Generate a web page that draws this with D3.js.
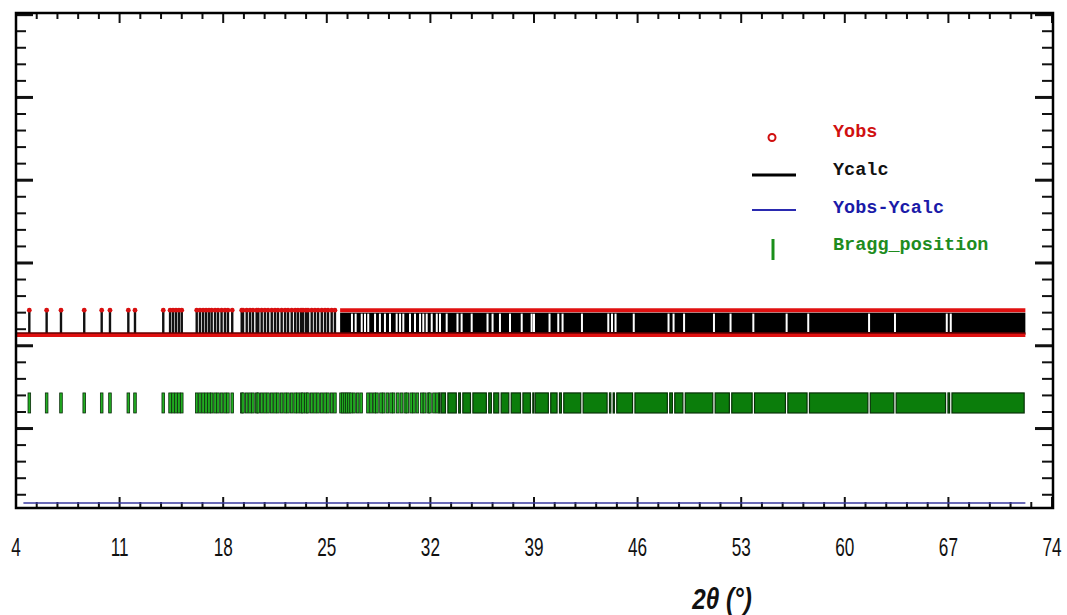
<!DOCTYPE html>
<html>
<head>
<meta charset="utf-8">
<script src="https://cdn.jsdelivr.net/npm/d3@7"></script>
<style>
  body { margin: 0; background: #fff; }
  svg { display: block; }
</style>
</head>
<body>
<svg id="chart"></svg>
<script>
// Tick labels along 2theta
var xTickLabels = [4, 11, 18, 25, 32, 39, 46, 53, 60, 67, 74];

// Measured range of the pattern (2theta, degrees)
var patternStart = 4.1,
    patternEnd = 72.2;

// Intensity levels
var backgroundLevel = 565,
    calcPeakLevel = 700,
    obsPeakLevel = 715,
    braggTop = 215,
    braggBottom = 94,
    diffLevel = -450;

// Reflections resolved one by one at low angle
var reflections = [
  4.90, 6.07, 7.04, 8.61, 9.79, 10.35, 11.59, 12.04, 13.95, 14.41, 14.61, 14.81, 15.01, 15.20,
  16.21, 16.43, 16.64, 16.84, 17.04, 17.22, 17.45, 17.65, 17.89, 18.12, 18.32, 18.61,
  19.25, 19.34, 19.59, 19.81, 20.01, 20.26, 20.37,
  20.60, 20.82, 21.03, 21.28, 21.50, 21.70, 21.95,
  22.18, 22.38, 22.63, 22.86, 23.05, 23.26, 23.39, 23.59, 23.73, 23.98, 24.20, 24.41,
  24.66, 24.88, 25.08, 25.33, 25.55,
  25.96, 26.09, 26.23, 26.36, 26.50, 26.64, 26.84, 27.09, 27.32,
  27.78, 27.99, 28.21, 28.39, 28.66, 28.84, 29.09, 29.34, 29.52, 29.80, 30.05,
  30.30, 30.44, 30.70, 30.89, 31.12, 31.42, 31.60, 31.85, 31.97, 32.24, 32.45
];

// Above these angles the peaks overlap into a solid band
var denseCalcFrom = 25.9,
    denseBraggFrom = 32.5;

// Small holes left between overlapping peaks
var gaps = [
  26.70, 26.95, 27.36, 27.58, 27.80, 28.26, 28.59, 28.93, 29.27, 29.72, 29.95, 30.17,
  30.62, 30.96, 31.30, 31.52, 31.75, 32.09, 32.43, 32.65,
  33.10, 33.83, 34.11, 34.79, 35.86, 36.20, 36.70, 37.38, 38.17, 38.84, 39.00,
  40.05, 40.64, 40.93, 42.24, 44.02, 44.27, 44.51, 45.74, 48.09, 48.43, 49.14,
  51.16, 52.28, 53.82, 56.07, 57.53, 61.64, 63.39, 66.89, 67.16
];

var width = 1067,
    height = 615,
    plot = { left: 16, right: 1052, top: 13, bottom: 508 };

var svg = d3.select("#chart")
  .attr("width", width)
  .attr("height", height);

var x = d3.scaleLinear().domain([4, 74]).range([plot.left, plot.right]);
var y = d3.scaleLinear().domain([-480, 2510]).range([plot.bottom, plot.top]);

// Axis ticks: drawn inside the frame on all four sides
var xMinor = d3.range(4, 74.01, 1.4),
    yMinor = d3.range(-400, 2501, 100);

function isMajorX(v) { return Math.abs(((v - 4) / 7) - Math.round((v - 4) / 7)) < 1e-6; }
function isMajorY(v) { return v % 500 === 0; }

var ticks = svg.append("g").attr("stroke", "#111").attr("stroke-width", 2);

ticks.selectAll(".tb").data(xMinor).enter().append("line")
  .attr("x1", function(d) { return x(d); })
  .attr("x2", function(d) { return x(d); })
  .attr("y1", plot.bottom)
  .attr("y2", function(d) { return plot.bottom - (isMajorX(d) ? 11 : 6); });

ticks.selectAll(".tt").data(xMinor).enter().append("line")
  .attr("x1", function(d) { return x(d); })
  .attr("x2", function(d) { return x(d); })
  .attr("y1", plot.top)
  .attr("y2", function(d) { return plot.top + (isMajorX(d) ? 10 : 6); });

ticks.selectAll(".tl").data(yMinor).enter().append("line")
  .attr("x1", plot.left)
  .attr("x2", function(d) { return plot.left + (isMajorY(d) ? 17 : 10); })
  .attr("y1", function(d) { return y(d); })
  .attr("y2", function(d) { return y(d); })
  .attr("stroke-width", function(d) { return isMajorY(d) ? 3 : 2; });

ticks.selectAll(".tr").data(yMinor).enter().append("line")
  .attr("x1", plot.right)
  .attr("x2", function(d) { return plot.right - (isMajorY(d) ? 17 : 10); })
  .attr("y1", function(d) { return y(d); })
  .attr("y2", function(d) { return y(d); })
  .attr("stroke-width", function(d) { return isMajorY(d) ? 3 : 2; });

// Difference curve (flat)
svg.append("line")
  .attr("x1", x(4.5)).attr("x2", x(patternEnd))
  .attr("y1", y(diffLevel)).attr("y2", y(diffLevel))
  .attr("stroke", "#3a3aa0")
  .attr("stroke-width", 1.5);

// ---- Ycalc / Yobs band ----
var band = svg.append("g");

// solid part of the calculated profile
band.append("rect")
  .attr("x", x(denseCalcFrom))
  .attr("y", y(calcPeakLevel))
  .attr("width", x(patternEnd) - x(denseCalcFrom))
  .attr("height", y(backgroundLevel) - y(calcPeakLevel))
  .attr("fill", "#000");

// single reflections
band.selectAll(".peak")
  .data(reflections.filter(function(d) { return d < denseCalcFrom; }))
  .enter().append("line")
  .attr("class", "peak")
  .attr("x1", function(d) { return x(d); })
  .attr("x2", function(d) { return x(d); })
  .attr("y1", y(backgroundLevel))
  .attr("y2", y(obsPeakLevel))
  .attr("stroke", "#111")
  .attr("stroke-width", 2.4);

// holes between overlapping peaks
band.selectAll(".gap")
  .data(gaps)
  .enter().append("line")
  .attr("x1", function(d) { return x(d); })
  .attr("x2", function(d) { return x(d); })
  .attr("y1", y(calcPeakLevel) + 1)
  .attr("y2", y(backgroundLevel) - 3)
  .attr("stroke", "#fff")
  .attr("stroke-width", 2);

// observed points: background line and peak tops
band.append("line")
  .attr("x1", plot.left + 1).attr("x2", x(patternEnd))
  .attr("y1", y(backgroundLevel)).attr("y2", y(backgroundLevel))
  .attr("stroke", "#e01010")
  .attr("stroke-width", 4);
band.append("line")
  .attr("x1", plot.left + 1).attr("x2", x(patternEnd))
  .attr("y1", y(backgroundLevel) - 2).attr("y2", y(backgroundLevel) - 2)
  .attr("stroke", "#600")
  .attr("stroke-width", 1.5);

band.append("line")
  .attr("x1", x(denseCalcFrom)).attr("x2", x(patternEnd))
  .attr("y1", y(obsPeakLevel)).attr("y2", y(obsPeakLevel))
  .attr("stroke", "#e01010")
  .attr("stroke-width", 4);

band.selectAll(".obs")
  .data(reflections.filter(function(d) { return d < denseCalcFrom; }))
  .enter().append("circle")
  .attr("cx", function(d) { return x(d); })
  .attr("cy", y(obsPeakLevel))
  .attr("r", 2.4)
  .attr("fill", "#d81010");

// ---- Bragg positions ----
var bragg = svg.append("g");

bragg.selectAll(".tick")
  .data(reflections.filter(function(d) { return d < denseBraggFrom; }))
  .enter().append("rect")
  .attr("x", function(d) { return x(d) - 1.3; })
  .attr("y", y(braggTop))
  .attr("width", 2.6)
  .attr("height", y(braggBottom) - y(braggTop))
  .attr("fill", "#22b022")
  .attr("stroke", "#0a2a0a")
  .attr("stroke-width", 0.8);

var edges = [denseBraggFrom].concat(gaps.filter(function(d) { return d > denseBraggFrom; }), [patternEnd]);
var blocks = d3.pairs(edges);

bragg.selectAll(".block")
  .data(blocks)
  .enter().append("rect")
  .attr("x", function(d) { return x(d[0]) + 1.2; })
  .attr("y", y(braggTop))
  .attr("width", function(d) { return Math.max(1, x(d[1]) - x(d[0]) - 2.4); })
  .attr("height", y(braggBottom) - y(braggTop))
  .attr("fill", "#0b7d0b")
  .attr("stroke", "#063006")
  .attr("stroke-width", 1.2);

// ---- frame ----
svg.append("rect")
  .attr("x", plot.left)
  .attr("y", plot.top)
  .attr("width", plot.right - plot.left + 1)
  .attr("height", plot.bottom - plot.top)
  .attr("fill", "none")
  .attr("stroke", "#000")
  .attr("stroke-width", 2.5);

// ---- tick labels and title (narrow, tall digits) ----
svg.selectAll(".xlabel")
  .data(xTickLabels)
  .enter().append("text")
  .attr("transform", function(d) { return "translate(" + x(d) + ",556) scale(0.78,1.2)"; })
  .attr("text-anchor", "middle")
  .attr("font-family", "'Liberation Sans', Arial, sans-serif")
  .attr("font-size", 22)
  .attr("fill", "#111")
  .text(function(d) { return d; });

svg.append("text")
  .attr("transform", "translate(722,609) scale(0.9,1.1)")
  .attr("text-anchor", "middle")
  .attr("font-family", "'Liberation Sans', Arial, sans-serif")
  .attr("font-size", 27)
  .attr("font-style", "italic")
  .attr("font-weight", "bold")
  .attr("fill", "#111")
  .text("2θ (°)");

// ---- legend ----
var legend = svg.append("g")
  .attr("font-family", "'Liberation Mono', 'DejaVu Sans Mono', monospace")
  .attr("font-size", 18.5)
  .attr("font-weight", "bold");

legend.append("circle")
  .attr("cx", 772).attr("cy", 137.5).attr("r", 3.5)
  .attr("fill", "none").attr("stroke", "#d01010").attr("stroke-width", 2);
legend.append("text").attr("x", 833).attr("y", 137).attr("fill", "#d01010").text("Yobs");

legend.append("line")
  .attr("x1", 752).attr("x2", 796).attr("y1", 175).attr("y2", 175)
  .attr("stroke", "#000").attr("stroke-width", 3);
legend.append("text").attr("x", 833).attr("y", 175).attr("fill", "#111").text("Ycalc");

legend.append("line")
  .attr("x1", 752).attr("x2", 796).attr("y1", 210).attr("y2", 210)
  .attr("stroke", "#2a2ab0").attr("stroke-width", 2);
legend.append("text").attr("x", 833).attr("y", 213).attr("fill", "#1a1aa8").text("Yobs-Ycalc");

legend.append("line")
  .attr("x1", 773).attr("x2", 773).attr("y1", 239).attr("y2", 260)
  .attr("stroke", "#1a8f1a").attr("stroke-width", 3);
legend.append("text").attr("x", 833).attr("y", 250).attr("fill", "#1e8c1e").text("Bragg_position");
</script>
</body>
</html>
